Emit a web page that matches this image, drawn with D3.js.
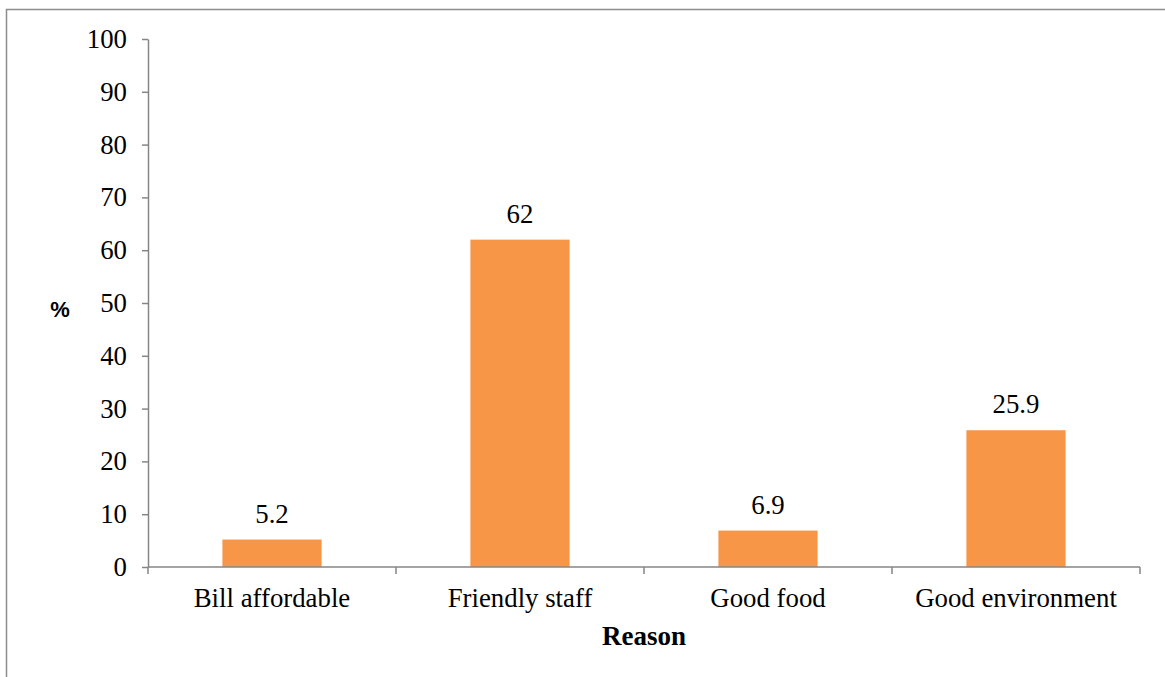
<!DOCTYPE html>
<html>
<head>
<meta charset="utf-8">
<script src="https://cdn.jsdelivr.net/npm/d3@7"></script>
<style>
  html, body { margin: 0; padding: 0; background: #fff; }
  svg { display: block; }
</style>
</head>
<body>
<svg id="chart" width="1165" height="677"></svg>
<script>
// Reasons and the share of respondents (%) choosing each
const categories = ["Bill affordable", "Friendly staff", "Good food", "Good environment"];
const values = [5.2, 62, 6.9, 25.9];
const yTicks = [0, 10, 20, 30, 40, 50, 60, 70, 80, 90, 100];

(function () {
const svg = d3.select("#chart");
const W = 1165, H = 677;
const plotLeft = 148, plotRight = 1140, plotTop = 39, plotBottom = 567;
const axisColor = "#868686";
const serif = "'Liberation Serif', 'Times New Roman', serif";
const fs = "26.8px";

// Outer frame
svg.append("rect")
  .attr("x", 6.5).attr("y", 9.5)
  .attr("width", W + 10).attr("height", H + 10)
  .attr("fill", "none").attr("stroke", "#8c8c8c").attr("stroke-width", 1.5);

const x = d3.scaleBand().domain(categories).range([plotLeft, plotRight]).paddingInner(0).paddingOuter(0);
const y = d3.scaleLinear().domain([0, 100]).range([plotBottom, plotTop]);

// Bars
const barW = x.bandwidth() * 0.4;
svg.append("g").selectAll("rect")
  .data(values)
  .join("rect")
  .attr("x", (d, i) => x(categories[i]) + (x.bandwidth() - barW) / 2)
  .attr("y", d => y(d))
  .attr("width", barW)
  .attr("height", d => y(0) - y(d))
  .attr("fill", "#F79646");

// Value labels
svg.append("g").selectAll("text")
  .data(values)
  .join("text")
  .attr("x", (d, i) => x(categories[i]) + x.bandwidth() / 2)
  .attr("y", d => y(d) - 17)
  .attr("text-anchor", "middle")
  .style("font-family", serif).style("font-size", fs).attr("fill", "#000")
  .text(d => d);

// Y axis
const yAxis = svg.append("g")
  .attr("transform", `translate(${plotLeft},0)`)
  .call(d3.axisLeft(y).tickValues(yTicks).tickSize(6).tickPadding(15).tickSizeOuter(0));
yAxis.select(".domain").attr("stroke", axisColor).attr("stroke-width", 1.5);
yAxis.selectAll(".tick line").attr("stroke", axisColor).attr("stroke-width", 1.5);
yAxis.selectAll(".tick text")
  .style("font-family", serif).style("font-size", fs).attr("fill", "#000");

// X axis with ticks at category boundaries
const xAxis = svg.append("g").attr("transform", `translate(0,${plotBottom})`);
xAxis.append("line")
  .attr("x1", plotLeft).attr("x2", plotRight)
  .attr("stroke", axisColor).attr("stroke-width", 1.5);
const bounds = categories.map(c => x(c)).concat([x(categories[categories.length - 1]) + x.bandwidth()]);
xAxis.selectAll("line.b")
  .data(bounds)
  .join("line").attr("class", "b")
  .attr("x1", d => d).attr("x2", d => d)
  .attr("y1", 0).attr("y2", 7)
  .attr("stroke", axisColor).attr("stroke-width", 1.5);
xAxis.selectAll("text")
  .data(categories)
  .join("text")
  .attr("x", d => x(d) + x.bandwidth() / 2)
  .attr("y", 40)
  .attr("text-anchor", "middle")
  .style("font-family", serif).style("font-size", fs).attr("fill", "#000")
  .text(d => d);

// Axis titles
svg.append("text")
  .attr("x", (plotLeft + plotRight) / 2).attr("y", 645)
  .attr("text-anchor", "middle")
  .style("font-family", serif).style("font-size", "27px").style("font-weight", "bold")
  .text("Reason");

svg.append("text")
  .attr("x", 60).attr("y", 317)
  .attr("text-anchor", "middle")
  .style("font-family", "'Liberation Sans', Arial, sans-serif").style("font-size", "22px").style("font-weight", "bold")
  .text("%");
})();
</script>
</body>
</html>
